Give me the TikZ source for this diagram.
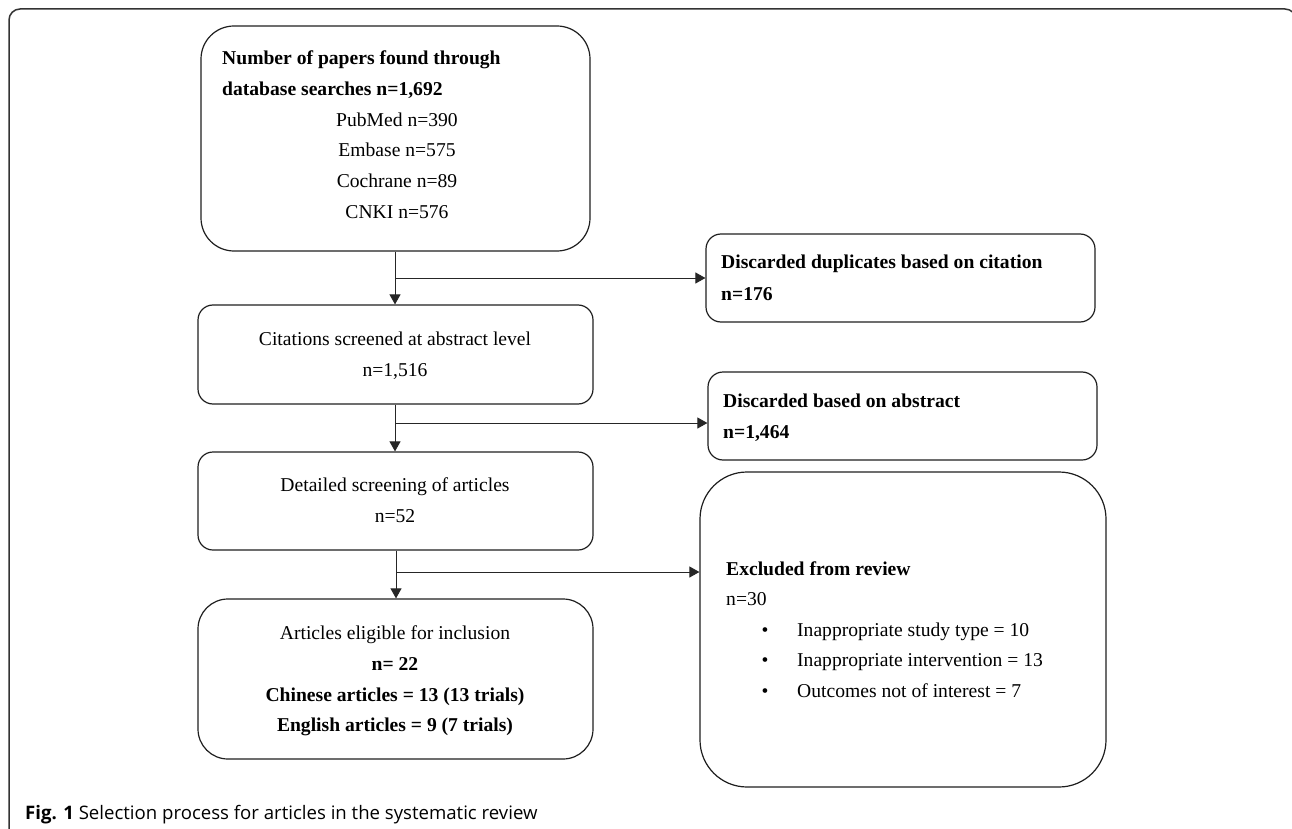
\documentclass[tikz,border=0pt]{standalone}
\usepackage{fontspec}
\setmainfont{Liberation Serif}
\newfontfamily\capfont{Open Sans}
\usetikzlibrary{arrows.meta}
\tikzset{
  box/.style={draw=black!88, line width=1.2pt, inner sep=0pt, fill=white},
  arr/.style={draw=black!85, line width=0.9pt, -{Triangle[length=10pt,width=11pt]}},
  txt/.style={inner sep=0pt, font=\fontsize{19.6}{22}\selectfont},
  btxt/.style={inner sep=0pt, font=\fontsize{19.6}{22}\selectfont\bfseries},
}
\begin{document}
\begin{tikzpicture}[x=1pt,y=-1pt]
\useasboundingbox (0,0) rectangle (1292,829);
\begin{scope}
\clip (0,0) rectangle (1292,829);
\draw[black!80, line width=1.5pt, rounded corners=11pt] (9,870) -- (9,9) -- (1296,9) -- (1296,870);
\end{scope}
% boxes
\node[box, rounded corners=33pt, minimum width=389pt, minimum height=225pt] (b1) at (395.5,138.5) {};
\node[box, rounded corners=15pt, minimum width=395pt, minimum height=99pt] (b2) at (395.5,354.5) {};
\node[box, rounded corners=15pt, minimum width=389pt, minimum height=88pt] (b3) at (900.5,278) {};
\node[box, rounded corners=15pt, minimum width=389pt, minimum height=88pt] (b4) at (902.5,416) {};
\node[box, rounded corners=15pt, minimum width=395pt, minimum height=98pt] (b5) at (395.5,501) {};
\node[box, rounded corners=47pt, minimum width=406pt, minimum height=315pt] (b6) at (903,629.5) {};
\node[box, rounded corners=30pt, minimum width=395pt, minimum height=160pt] (b7) at (395.5,679) {};
% box 1 text
\node[btxt, anchor=base west] (t1a) at (222,65) {Number of papers found through};
\node[btxt, anchor=base west] (t1b) at (222,96) {database searches n=1,692};
\node[txt, anchor=base] (t1c) at (397,126.5) {PubMed n=390};
\node[txt, anchor=base] (t1d) at (397,157) {Embase n=575};
\node[txt, anchor=base] (t1e) at (397,188) {Cochrane n=89};
\node[txt, anchor=base] (t1f) at (397,218.5) {CNKI n=576};
% box 2 text
\node[txt, anchor=base] (t2a) at (395,345.5) {Citations screened at abstract level};
\node[txt, anchor=base] (t2b) at (395,376.5) {n=1,516};
% box 3 text
\node[btxt, anchor=base west] (t3a) at (721,268.5) {Discarded duplicates based on citation};
\node[btxt, anchor=base west] (t3b) at (721,300.5) {n=176};
% box 4 text
\node[btxt, anchor=base west] (t4a) at (723,407.5) {Discarded based on abstract};
\node[btxt, anchor=base west] (t4b) at (723,438.5) {n=1,464};
% box 5 text
\node[txt, anchor=base] (t5a) at (395,491.5) {Detailed screening of articles};
\node[txt, anchor=base] (t5b) at (395,522.5) {n=52};
% box 6 text
\node[btxt, anchor=base west] (t6a) at (726,575.5) {Excluded from review};
\node[txt, anchor=base west] (t6b) at (726,605.5) {n=30};
\node[txt, anchor=base] (u1) at (765,636.5) {•};
\node[txt, anchor=base] (u2) at (765,666.5) {•};
\node[txt, anchor=base] (u3) at (765,697.5) {•};
\node[txt, anchor=base west] (t6c) at (797,636.5) {Inappropriate study type = 10};
\node[txt, anchor=base west] (t6d) at (797,666.5) {Inappropriate intervention = 13};
\node[txt, anchor=base west] (t6e) at (797,697.5) {Outcomes not of interest = 7};
% box 7 text
\node[txt, anchor=base] (t7a) at (395,639.5) {Articles eligible for inclusion};
\node[btxt, anchor=base] (t7b) at (395,670.5) {n= 22};
\node[btxt, anchor=base] (t7c) at (395,701.5) {Chinese articles = 13 (13 trials)};
\node[btxt, anchor=base] (t7d) at (395,731.5) {English articles = 9 (7 trials)};
% caption
\node[inner sep=0pt, anchor=base west, font=\capfont\fontsize{18.6}{21}\selectfont] (cap) at (25,819) {\textbf{Fig. 1} Selection process for articles in the systematic review};
% connectors
\coordinate (j1) at (395,278);
\coordinate (j2) at (395,423);
\coordinate (j3) at (396,572);
\draw[arr] (b1.south -| j1) -- (b2.north -| j1);
\draw[arr] (j1) -- (b3.west |- j1);
\draw[arr] (b2.south -| j2) -- (b5.north -| j2);
\draw[arr] (j2) -- (b4.west |- j2);
\draw[arr] (b5.south -| j3) -- (b7.north -| j3);
\draw[arr] (j3) -- (b6.west |- j3);
\end{tikzpicture}
\end{document}
